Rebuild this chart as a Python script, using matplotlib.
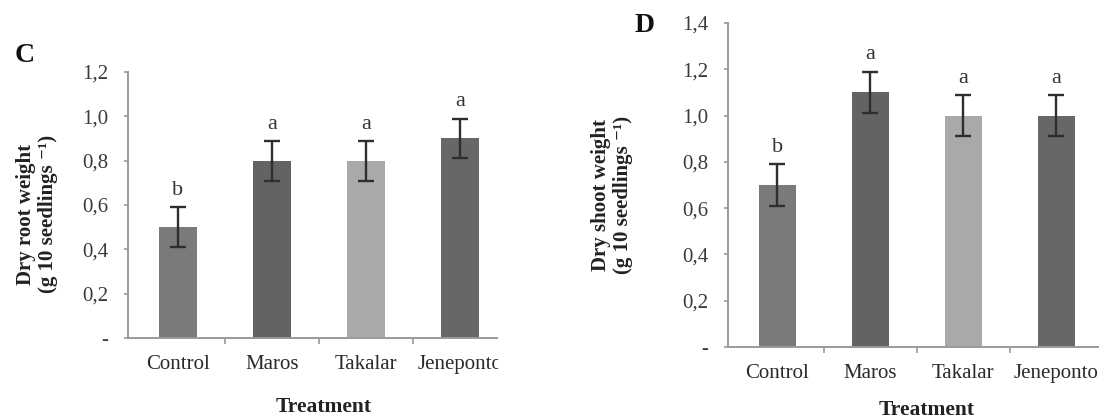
import matplotlib
matplotlib.use("Agg")
import matplotlib.pyplot as plt
from matplotlib.patches import Rectangle
from matplotlib.ticker import FixedLocator, FuncFormatter

# ---- data ----
categories = ["Control", "Maros", "Takalar", "Jeneponto"]
root_weight = [0.5, 0.8, 0.8, 0.9]
root_err = [0.09, 0.09, 0.09, 0.09]
root_letters = ["b", "a", "a", "a"]
shoot_weight = [0.7, 1.1, 1.0, 1.0]
shoot_err = [0.09, 0.09, 0.09, 0.09]
shoot_letters = ["b", "a", "a", "a"]
bar_colors = ["#7a7a7a", "#636363", "#a9a9a9", "#676767"]

SERIF = ["Liberation Serif", "DejaVu Serif"]
plt.rcParams["font.family"] = SERIF

W, H = 1099, 419
fig = plt.figure(figsize=(W / 100, H / 100), dpi=100)


def px_axes(left, right, bottom_px, top_px):
    return [left / W, 1 - bottom_px / H, (right - left) / W, (bottom_px - top_px) / H]


def fmt(v, pos):
    if abs(v) < 1e-9:
        return "-"
    return f"{v:.1f}".replace(".", ",")


def draw_panel(ax, values, errs, letters, ymax):
    x = list(range(len(categories)))
    ax.bar(x, values, width=0.40, color=bar_colors, zorder=2)
    ax.errorbar(x, values, yerr=errs, fmt="none", ecolor="#2e2e2e",
                elinewidth=1.7, capsize=5.5, capthick=1.7, zorder=3)
    for i, (v, e, l) in enumerate(zip(values, errs, letters)):
        ax.annotate(l, xy=(i, v + e), xytext=(0, 12), textcoords="offset points",
                    ha="center", va="center", fontsize=16, color="#333333")
    ax.set_xlim(-0.53, 3.5)
    ax.set_ylim(0, ymax)
    ax.spines["top"].set_visible(False)
    ax.spines["right"].set_visible(False)
    for s in ("left", "bottom"):
        ax.spines[s].set_color("#9a9a9a")
        ax.spines[s].set_linewidth(1.4)
    ax.set_yticks([round(0.2 * k, 1) for k in range(int(round(ymax / 0.2)) + 1)])
    ax.yaxis.set_major_formatter(FuncFormatter(fmt))
    ax.tick_params(axis="y", direction="out", length=3, width=1.2,
                   color="#9a9a9a", pad=11, labelsize=15, labelcolor="#3a3a3a")
    ax.set_xticks(x)
    ax.set_xticklabels(categories)
    ax.xaxis.set_minor_locator(FixedLocator([0.5, 1.5, 2.5]))
    ax.tick_params(axis="x", which="major", length=0, pad=12, labelsize=15,
                   labelcolor="#2a2a2a")
    ax.tick_params(axis="x", which="minor", direction="out", length=4,
                   width=1.2, color="#9a9a9a")


axC = fig.add_axes(px_axes(128, 128 + 4.03 * 94, 338, 72))
draw_panel(axC, root_weight, root_err, root_letters, 1.2)

axD = fig.add_axes(px_axes(728, 728 + 4.03 * 93, 347, 23))
draw_panel(axD, shoot_weight, shoot_err, shoot_letters, 1.4)

# crop of left panel
fig.add_artist(Rectangle((498 / W, 0), 60 / W, 1, transform=fig.transFigure,
                         facecolor="white", edgecolor="none", zorder=10))

# panel letters
fig.text(25 / W, 1 - 55 / H, "C", fontsize=20, fontweight="bold",
         ha="center", va="center", color="#111111")
fig.text(645 / W, 1 - 25 / H, "D", fontsize=20, fontweight="bold",
         ha="center", va="center", color="#111111")

# y labels
fig.text(37 / W, 1 - 214 / H, "Dry root weight\n(g 10 seedlings \u207b\u00b9)",
         rotation=90, ha="center", va="center", multialignment="center",
         fontsize=15, fontweight="bold", color="#222222", linespacing=1.1)
fig.text(612 / W, 1 - 195 / H, "Dry shoot weight\n(g 10 seedlings \u207b\u00b9)",
         rotation=90, ha="center", va="center", multialignment="center",
         fontsize=15, fontweight="bold", color="#222222", linespacing=1.1)

# x labels
fig.text(324 / W, 1 - 407 / H, "Treatment", fontsize=15.5, fontweight="bold",
         ha="center", va="center", color="#222222")
fig.text(927 / W, 1 - 410 / H, "Treatment", fontsize=15.5, fontweight="bold",
         ha="center", va="center", color="#222222")

fig.savefig("out.png", dpi=100, facecolor="white")
